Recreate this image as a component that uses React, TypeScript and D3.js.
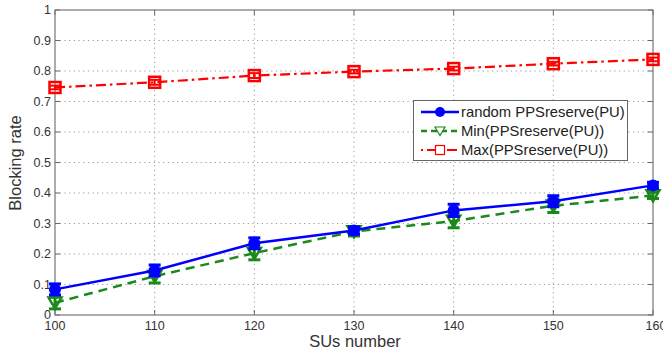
import React from 'react';
import { scaleLinear, line } from 'd3';

const suNumbers = [100, 110, 120, 130, 140, 150, 160];
const randomRate = [0.084, 0.146, 0.235, 0.277, 0.343, 0.373, 0.425];
const randomErr = [0.018, 0.018, 0.018, 0.012, 0.02, 0.018, 0.01];
const minRate = [0.04, 0.127, 0.203, 0.274, 0.308, 0.358, 0.392];
const minErr = [0.02, 0.022, 0.022, 0.015, 0.022, 0.022, 0.01];
const maxRate = [0.746, 0.763, 0.785, 0.798, 0.808, 0.824, 0.838];
const maxErr = [0.006, 0.008, 0.008, 0.006, 0.006, 0.006, 0.006];
const yTicks = [0, 0.1, 0.2, 0.3, 0.4, 0.5, 0.6, 0.7, 0.8, 0.9, 1];
const legendNames = ['random PPSreserve(PU)', 'Min(PPSreserve(PU))', 'Max(PPSreserve(PU))'];

const dims = { width: 663, height: 353, left: 55, right: 653, top: 10, bottom: 315 };
const font = 'Arial, "Liberation Sans", sans-serif';

function App() {
  const x = scaleLinear().domain([100, 160]).range([dims.left, dims.right]);
  const y = scaleLinear().domain([0, 1]).range([dims.bottom, dims.top]);
  const path = (vals: number[]) =>
    line<number>().x((_, i) => x(suNumbers[i])).y(d => y(d))(vals) || '';

  const errBars = (vals: number[], errs: number[], color: string, sw: number) =>
    vals.map((v, i) => {
      const cx = x(suNumbers[i]);
      const y1 = y(v + errs[i]);
      const y2 = y(v - errs[i]);
      return (
        <g key={i} stroke={color} strokeWidth={sw}>
          <line x1={cx} x2={cx} y1={y1} y2={y2} />
          <line x1={cx - 6} x2={cx + 6} y1={y1} y2={y1} />
          <line x1={cx - 6} x2={cx + 6} y1={y2} y2={y2} />
        </g>
      );
    });

  const tri = (cx: number, cy: number, s: number) =>
    `M${cx - s},${cy - s * 0.8}L${cx + s},${cy - s * 0.8}L${cx},${cy + s * 0.9}Z`;

  const lx = 421, lx2 = 459;
  const legendY = [112, 131, 150];

  return (
    <svg width={dims.width} height={dims.height} style={{ position: 'absolute', left: 0, top: 0 }}>
      <rect width={dims.width} height={dims.height} fill="#fff" />
      {/* grid */}
      <g stroke="#999" strokeWidth={1} strokeDasharray="1.2,3.5">
        {yTicks.slice(1, -1).map(t => (
          <line key={t} x1={dims.left} x2={dims.right} y1={y(t)} y2={y(t)} />
        ))}
        {suNumbers.slice(1, -1).map(t => (
          <line key={t} x1={x(t)} x2={x(t)} y1={dims.top} y2={dims.bottom} />
        ))}
      </g>
      {/* ticks */}
      <g stroke="#666" strokeWidth={1}>
        {yTicks.map(t => (
          <g key={t}>
            <line x1={dims.left} x2={dims.left + 5} y1={y(t)} y2={y(t)} />
            <line x1={dims.right} x2={dims.right - 5} y1={y(t)} y2={y(t)} />
          </g>
        ))}
        {suNumbers.map(t => (
          <g key={t}>
            <line x1={x(t)} x2={x(t)} y1={dims.bottom} y2={dims.bottom - 5} />
            <line x1={x(t)} x2={x(t)} y1={dims.top} y2={dims.top + 5} />
          </g>
        ))}
      </g>
      <rect x={dims.left} y={dims.top} width={dims.right - dims.left} height={dims.bottom - dims.top}
        fill="none" stroke="#777" strokeWidth={1.2} />
      {/* tick labels */}
      <g fontFamily={font} fontSize={12.5} fill="#333">
        {yTicks.map(t => (
          <text key={t} x={dims.left - 4} y={y(t) + 4} textAnchor="end">{String(t)}</text>
        ))}
        {suNumbers.map(t => (
          <text key={t} x={x(t) + (t === 160 ? 3 : 0)} y={dims.bottom + 15} textAnchor="middle">{t}</text>
        ))}
      </g>
      <text x={355} y={347} textAnchor="middle" fontFamily={font} fontSize={16.5} fill="#333">SUs number</text>
      <text transform={`translate(21,${163}) rotate(-90)`} textAnchor="middle" fontFamily={font} fontSize={16.5} fill="#333">Blocking rate</text>

      {/* red max */}
      <path d={path(maxRate)} fill="none" stroke="#f00" strokeWidth={2.2} strokeDasharray="10,4,2.5,4" />
      {errBars(maxRate, maxErr, '#f00', 2)}
      {maxRate.map((v, i) => (
        <rect key={i} x={x(suNumbers[i]) - 5.5} y={y(v) - 5.5} width={11} height={11}
          fill="none" stroke="#f00" strokeWidth={2.5} />
      ))}

      {/* green min */}
      <path d={path(minRate)} fill="none" stroke="#1a8a1a" strokeWidth={2.5} strokeDasharray="9,6" />
      {errBars(minRate, minErr, '#1a8a1a', 3)}
      {minRate.map((v, i) => (
        <path key={i} d={tri(x(suNumbers[i]), y(v), 6.5)} fill="none" stroke="#1a8a1a" strokeWidth={2.5} />
      ))}

      {/* blue random */}
      <path d={path(randomRate)} fill="none" stroke="#0000ff" strokeWidth={2.5} />
      {errBars(randomRate, randomErr, '#0000ff', 3)}
      {randomRate.map((v, i) => (
        <circle key={i} cx={x(suNumbers[i])} cy={y(v)} r={6} fill="#0000ff" />
      ))}

      {/* legend */}
      <rect x={413.5} y={100.5} width={214} height={60} fill="#fff" stroke="#666" strokeWidth={1} />
      <g fontFamily={font} fontSize={14.8} fill="#222">
        {legendNames.map((n, i) => (
          <text key={n} x={461} y={legendY[i] + 5}>{n}</text>
        ))}
      </g>
      <line x1={lx} x2={lx2} y1={legendY[0]} y2={legendY[0]} stroke="#0000ff" strokeWidth={2.5} />
      <circle cx={(lx + lx2) / 2} cy={legendY[0]} r={5} fill="#0000ff" />
      <line x1={lx} x2={lx2} y1={legendY[1]} y2={legendY[1]} stroke="#1a8a1a" strokeWidth={2.5} strokeDasharray="6,4" />
      <path d={tri((lx + lx2) / 2, legendY[1], 5)} fill="#fff" stroke="#1a8a1a" strokeWidth={1.2} />
      <line x1={lx} x2={lx2} y1={legendY[2]} y2={legendY[2]} stroke="#f00" strokeWidth={2.2} strokeDasharray="2,4,10,4" />
      <rect x={(lx + lx2) / 2 - 4.5} y={legendY[2] - 4.5} width={9} height={9} fill="#fff" stroke="#f00" strokeWidth={1.2} />
    </svg>
  );
}

export default App;
